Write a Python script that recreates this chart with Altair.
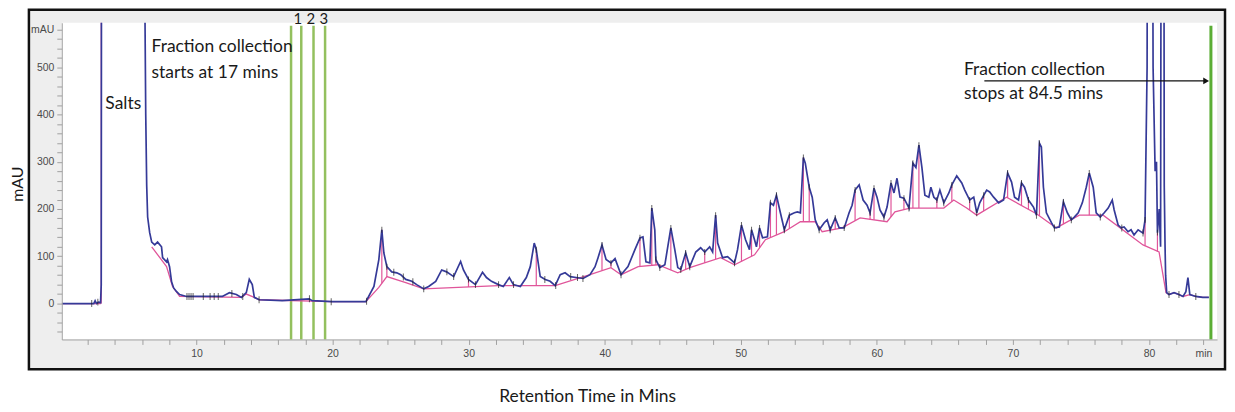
import altair as alt
import pandas as pd

# ---------------- data ----------------
trace_t = [0.1, 1.5, 2.45, 2.55, 2.65, 2.8, 2.95, 3.0, 3.05, 6.1, 6.19, 6.27, 6.34, 6.41, 6.56, 6.71,
           6.93, 7.14, 7.43, 7.51, 7.80, 7.87, 8.02, 8.17, 8.32, 8.54, 8.76, 9.27, 10.22, 11.17, 11.90,
           12.42, 12.93, 13.30, 13.66, 13.88, 14.10, 14.25, 14.61, 16.30, 18.28, 18.50, 19.96, 22.45,
           23.04, 23.40, 23.62, 23.77, 23.99, 24.35, 24.72, 25.01, 25.38, 25.82, 26.18, 26.70, 27.06,
           27.58, 28.02, 28.38, 28.90, 29.41, 29.62, 29.99, 30.50, 31.02, 31.31, 31.68, 32.19, 32.55,
           32.99, 33.29, 33.80, 34.24, 34.53, 34.82, 34.97, 35.26, 35.63, 35.99, 36.36, 36.73, 37.09,
           37.46, 37.90, 38.41, 38.92, 39.29, 39.51, 39.80, 40.10, 40.46, 40.76, 41.20, 41.71, 42.22,
           42.59, 42.81, 43.03, 43.32, 43.46, 43.68, 43.76, 44.05, 44.42, 44.86, 45.15, 45.37, 45.59,
           45.95, 46.25, 46.69, 47.05, 47.35, 47.71, 47.93, 48.15, 48.30, 48.66, 49.03, 49.54, 49.76,
           50.05, 50.35, 50.64, 50.79, 51.01, 51.15, 51.38, 51.60, 51.96, 52.18, 52.40, 52.62, 52.91,
           53.20, 53.57, 53.94, 54.16, 54.38, 54.60, 54.74, 55.03, 55.25, 55.47, 55.76, 56.13, 56.35,
           56.57, 56.94, 57.23, 57.60, 57.96, 58.18, 58.40, 58.70, 58.99, 59.28, 59.50, 59.79, 60.01,
           60.23, 60.52, 60.75, 61.04, 61.26, 61.48, 61.70, 61.99, 62.36, 62.65, 62.87, 63.09, 63.31,
           63.53, 63.82, 63.97, 64.19, 64.41, 64.63, 64.92, 65.29, 65.51, 65.87, 66.24, 66.46, 66.82,
           67.12, 67.34, 67.56, 67.85, 68.07, 68.29, 68.58, 68.95, 69.31, 69.61, 69.90, 70.12, 70.41,
           70.63, 70.85, 71.14, 71.51, 71.73, 71.95, 72.09, 72.24, 72.46, 72.83, 73.05, 73.41, 73.71,
           74.00, 74.29, 74.51, 74.80, 75.10, 75.39, 75.61, 75.90, 76.12, 76.42, 76.71, 77.00, 77.30,
           77.44, 77.73, 77.95, 78.17, 78.46, 78.68, 78.90, 79.20, 79.56, 79.71, 79.86, 79.95, 80.15,
           80.30, 80.45, 80.55, 80.62, 80.75, 80.85, 80.95, 81.05, 81.12, 81.18, 81.22, 81.30, 81.47,
           81.84, 82.20, 82.50, 82.71, 82.86, 83.00, 83.44, 83.95, 84.40]
trace_v = [0, 0, 0, 6, 0, 3, 2, 40, 2000, 2000, 700, 400, 250, 183, 150, 130,
           124, 130, 120, 97, 88, 93, 78, 46, 33, 25, 19, 15, 15, 15, 15,
           23, 19, 13, 23, 51, 40, 13, 8, 6, 10, 6, 4, 4,
           36, 93, 156, 107, 78, 67, 65, 61, 51, 47, 40, 31, 36,
           47, 71, 67, 57, 89, 71, 51, 40, 66, 55, 47, 40, 36,
           55, 40, 36, 55, 78, 128, 114, 57, 51, 47, 38, 61, 65,
           57, 55, 53, 61, 78, 97, 124, 93, 86, 95, 61, 78, 114,
           139, 141, 88, 86, 202, 156, 93, 76, 82, 160, 114, 76, 72,
           107, 78, 109, 118, 109, 120, 109, 187, 128, 97, 99, 86, 114,
           166, 135, 114, 156, 135, 120, 160, 139, 141, 213, 208, 229, 192,
           156, 187, 192, 194, 192, 309, 297, 246, 225, 177, 156, 171, 177,
           156, 181, 160, 160, 192, 208, 240, 251, 219, 208, 192, 244, 225,
           198, 183, 204, 255, 234, 265, 225, 223, 202, 297, 288, 335, 288,
           229, 225, 246, 225, 219, 240, 213, 234, 251, 270, 255, 240, 219,
           225, 192, 213, 229, 240, 236, 225, 213, 219, 276, 257, 225, 219,
           255, 246, 219, 204, 187, 339, 331, 246, 192, 171, 160, 162, 215,
           192, 177, 183, 192, 213, 246, 276, 246, 192, 183, 192, 202, 219,
           198, 166, 160, 162, 152, 156, 145, 156, 149, 177, 500, 2000, 2000,
           500, 280, 300, 150, 200, 120, 2000, 2000, 250, 120, 60, 23, 19,
           23, 19, 15, 25, 55, 19, 15, 13, 13]

base_t = [0.1, 2.97, 6.71, 7.80, 8.24, 8.76, 13.30, 13.66, 14.25, 14.61, 19.96, 22.45, 23.40,
          23.99, 25.38, 26.70, 32.19, 36.36, 38.92, 40.46, 41.20, 42.46, 43.90, 45.37, 46.25,
          48.52, 49.54, 51.01, 51.81, 53.20, 54.38, 55.47, 55.98, 57.45, 58.77, 60.75, 61.33,
          62.43, 64.92, 65.65, 66.60, 67.34, 69.53, 71.73, 73.19, 74.88, 76.63, 79.56, 80.74,
          81.25, 81.47, 81.84, 82.20, 82.50, 83.00, 83.44, 83.95, 84.40]
base_v = [0, 0, 120, 78, 36, 15, 13, 20, 13, 8, 4, 4, 34,
          57, 44, 31, 38, 38, 61, 76, 61, 78, 82, 65, 76,
          97, 82, 103, 135, 152, 173, 173, 152, 160, 181, 173, 194,
          202, 202, 219, 202, 187, 225, 190, 160, 187, 187, 124, 109,
          23, 19, 23, 19, 15, 19, 15, 13, 13]

drop_t = [3.0, 23.62, 23.99, 29.99, 34.97, 39.80, 40.46, 42.59, 43.46, 43.76, 44.86, 45.95, 47.35,
          48.15, 50.05, 50.79, 51.38, 52.18, 52.62, 53.57, 54.60, 55.03, 56.94, 57.60, 58.40,
          59.50, 59.79, 61.04, 61.99, 62.65, 63.09, 64.41, 65.51, 66.82, 67.85, 69.61, 70.63,
          71.14, 71.95, 73.71, 75.61, 79.71, 80.62]
drop_top = [2000, 156, 78, 51, 114, 124, 86, 139, 202, 93, 160, 107, 109,
            187, 166, 156, 160, 213, 229, 187, 309, 246, 181, 160, 240,
            192, 244, 255, 223, 297, 335, 219, 251, 219, 229, 276, 255,
            219, 339, 215, 276, 177, 150]
drop_bot = [0, 43, 57, 35, 38, 70, 76, 78, 81, 82, 71, 72, 86,
            94, 89, 100, 118, 140, 145, 159, 173, 173, 157, 162, 175,
            178, 177, 183, 199, 202, 202, 202, 216, 198, 196, 224, 207,
            199, 185, 168, 187, 122, 110]

tick_t = [2.3, 2.75, 9.3, 9.45, 9.6, 9.75, 10.5, 11.0, 11.3, 11.6, 12.6, 13.4, 14.6, 18.3, 19.9,
          22.5, 24.5, 25.2, 25.9, 26.7, 28.4, 28.9, 30.5, 32.2, 33.3, 35.6, 36.4, 37.5, 38.0, 38.4,
          41.2, 44.05, 45.59, 46.25, 49.54, 53.20, 55.76, 56.57, 60.52, 62.36, 64.92, 67.34, 71.73,
          73.05, 74.29, 76.42, 78.0, 79.56, 81.47, 82.20, 83.44]
tick_v = [0, 3, 15, 15, 15, 15, 15, 15, 15, 15, 21, 15, 8, 10, 4,
          5, 66, 56, 46, 31, 67, 57, 40, 40, 40, 51, 38, 57, 55, 53,
          61, 76, 72, 78, 86, 156, 156, 156, 183, 202, 213, 192, 187,
          160, 177, 183, 160, 149, 19, 19, 15]

frac_t = [16.95, 17.7, 18.6, 19.45]
frac_stop_t = [84.55]
frac_lbl = ["1", "2", "3"]
frac_lbl_t = [17.45, 18.4, 19.35]

ann_text = ["Salts", "Fraction collection", "starts at 17 mins",
            "Fraction collection", "stops at  84.5 mins"]
ann_t = [3.3, 6.7, 6.7, 66.4, 66.4]
ann_v = [423, 543, 488, 493, 444]

arrow_t = [67.9, 84.2]
arrow_v = [471]

x_ticks = list(range(2, 85, 2))
y_ticks = list(range(-60, 581, 20))

# ---------------- chart ----------------
W, H = 1160, 318
xs = alt.Scale(domain=[0.1, 85.0], nice=False, zero=False)
ys = alt.Scale(domain=[-76, 594], nice=False, zero=False)

x_axis = alt.Axis(values=x_ticks,
                  labelExpr="datum.value == 84 ? 'min' : (datum.value % 10 == 0 ? datum.label : '')",
                  tickSize=5, tickColor="#a0a0a0", domainColor="#a0a0a0", labelColor="#4a4a4a",
                  labelFont="Liberation Sans", labelFontSize=10.5, labelPadding=4, grid=False,
                  title=None, labelOverlap=False, labelFlush=False, zindex=1)
y_axis = alt.Axis(values=y_ticks,
                  labelExpr="datum.value == 580 ? 'mAU' : (datum.value >= 0 && datum.value % 100 == 0 ? datum.label : '')",
                  tickSize=5, tickColor="#a0a0a0", domainColor="#a0a0a0", labelColor="#4a4a4a",
                  labelFont="Liberation Sans", labelFontSize=10.5, labelPadding=3, grid=False,
                  title=None, labelOverlap=False, format="d", zindex=1)

def X(f):
    return alt.X(f, type="quantitative", scale=xs, axis=x_axis)

def Y(f):
    return alt.Y(f, type="quantitative", scale=ys, axis=y_axis)

one = pd.DataFrame({"a": [0]})
frame = alt.Chart(one).mark_rect(fill="#eeeeee", stroke="#111111", strokeWidth=2.5).encode(
    x=alt.value(-33), x2=alt.value(1168), y=alt.value(-13), y2=alt.value(348))
plotbg = alt.Chart(one).mark_rect(fill="white").encode(
    x=alt.value(0), x2=alt.value(W), y=alt.value(0), y2=alt.value(H))

df_trace = pd.DataFrame({"t": trace_t, "v": trace_v})
df_base = pd.DataFrame({"t": base_t, "v": base_v})
df_base["seg"] = [0 if t < 4 else 1 for t in base_t]
df_drop = pd.DataFrame({"t": drop_t, "top": drop_top, "bot": drop_bot})
df_tick = pd.DataFrame({"t": tick_t, "v": tick_v})
df_frac = pd.DataFrame({"t": frac_t})
df_stop = pd.DataFrame({"t": frac_stop_t})
df_flbl = pd.DataFrame({"t": frac_lbl_t, "lbl": frac_lbl})
df_ann = pd.DataFrame({"t": ann_t, "v": ann_v, "txt": ann_text})
df_arrow = pd.DataFrame({"t1": [arrow_t[0]], "t2": [arrow_t[1]], "v": arrow_v})
df_head = pd.DataFrame({"t": [arrow_t[1]], "v": arrow_v})

green_lines = alt.Chart(df_frac).mark_rule(color="#93c05e", strokeWidth=2.5).encode(
    x=X("t"), y=alt.value(3), y2=alt.value(H))
stop_line = alt.Chart(df_stop).mark_rule(color="#5aad34", strokeWidth=3).encode(
    x=X("t"), y=alt.value(3), y2=alt.value(H))

baseline = alt.Chart(df_base).mark_line(color="#e0559a", strokeWidth=1.3, clip=True).encode(
    x=X("t"), y=Y("v"), detail="seg:N")
drops = alt.Chart(df_drop).mark_rule(color="#e0559a", strokeWidth=1.2, clip=True).encode(
    x=X("t"), y=Y("top"), y2="bot:Q")
trace = alt.Chart(df_trace).mark_line(color="#353a98", strokeWidth=1.7, clip=True).encode(
    x=X("t"), y=Y("v"))
ticks = alt.Chart(df_tick).mark_tick(color="#222222", orient="vertical", size=7, thickness=1).encode(
    x=X("t"), y=Y("v"))
drop_ticks = alt.Chart(df_drop[df_drop["t"] > 10]).mark_tick(
    color="#222222", orient="vertical", size=6, thickness=1).encode(x=X("t"), y=Y("top"))

flbl = alt.Chart(df_flbl).mark_text(font="Lato", fontSize=15, color="#1a1a1a", baseline="middle").encode(
    x=X("t"), y=alt.value(-4), text="lbl:N")
ann = alt.Chart(df_ann).mark_text(font="Lato", fontSize=17.5, color="#1a1a1a", align="left",
                                  baseline="middle").encode(x=X("t"), y=Y("v"), text="txt:N")
arrow = alt.Chart(df_arrow).mark_rule(color="#111111", strokeWidth=1.2).encode(
    x=X("t1"), x2="t2:Q", y=Y("v"))
head = alt.Chart(df_head).mark_point(shape="triangle-right", filled=True, color="#111111",
                                     size=45, opacity=1).encode(x=X("t"), y=Y("v"))

ytitle = alt.Chart(one).mark_text(text="mAU", font="Lato", fontSize=16, color="#1a1a1a",
                                  angle=270, baseline="middle").encode(
    x=alt.value(-44), y=alt.value(162))
xtitle = alt.Chart(one).mark_text(text="Retention Time in Mins", font="Lato", fontSize=17.5,
                                  color="#1a1a1a", baseline="middle").encode(
    x=alt.value(528), y=alt.value(376))

chart = alt.layer(frame, plotbg, green_lines, stop_line, baseline, drops, trace, ticks, drop_ticks,
                  flbl, ann, arrow, head, ytitle, xtitle).properties(
    width=W, height=H,
    autosize=alt.AutoSizeParams(type="none"),
    padding={"left": 54, "top": 14, "right": 10, "bottom": 66},
    background="white",
).configure_view(strokeWidth=0)

chart.save("out.html", embed_options={"renderer": "svg", "actions": False})
